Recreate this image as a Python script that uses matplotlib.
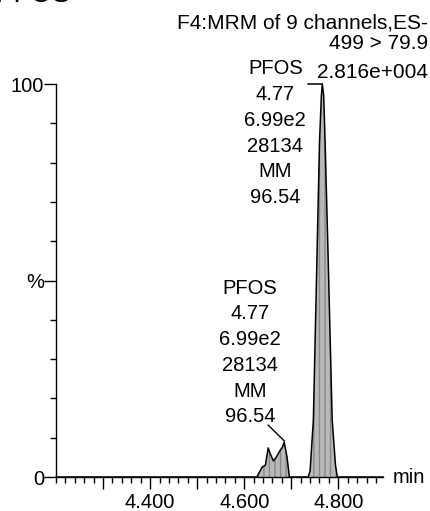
import numpy as np
import matplotlib
matplotlib.use("Agg")
import matplotlib.pyplot as plt
from matplotlib.ticker import FixedLocator, MultipleLocator

plt.rcParams['font.family'] = ['Liberation Sans', 'DejaVu Sans']

# chromatogram trace (time in min, intensity in %)
times = [4.200, 4.627, 4.638, 4.645, 4.651, 4.655, 4.662, 4.668, 4.677, 4.681,
         4.685, 4.691, 4.696, 4.736, 4.740, 4.747, 4.755, 4.760, 4.764, 4.766,
         4.769, 4.772, 4.778, 4.787, 4.794, 4.798, 4.895]
intensity = [0, 0, 2.5, 3.0, 7.4, 6.0, 4.1, 5.0, 6.9, 7.5,
             8.9, 5.1, 0, 0, 1.5, 14.5, 57.8, 85, 97, 100,
             97, 85, 57.8, 14.5, 3.0, 0, 0]

# peak annotations
peak_label = "PFOS\n4.77\n6.99e2\n28134\nMM\n96.54"
header_lines = ["F4:MRM of 9 channels,ES-", "499 > 79.9", "2.816e+004"]
major_ticks = [4.3, 4.4, 4.5, 4.6, 4.7, 4.8]
major_labels = ["", "4.400", "", "4.600", "", "4.800"]

W, H = 430, 511
fig = plt.figure(figsize=(W / 100, H / 100), dpi=100)
ax = fig.add_axes([56 / W, 34 / H, (383 - 56) / W, (477 - 84) / H])

t = np.array(times)
y = np.array(intensity)
ax.fill_between(t, 0, y, facecolor='#b9b9b9', edgecolor='none', clip_on=False)
ax.fill_between(t, 0, y, facecolor='none', edgecolor='#888888', hatch='|||',
                linewidth=0, clip_on=False)
ax.plot(t, y, color='black', lw=1.1, clip_on=False)

ax.set_xlim(4.2, 4.895)
ax.set_ylim(0, 100)

for s in ['top', 'right']:
    ax.spines[s].set_visible(False)
for s in ['left', 'bottom']:
    ax.spines[s].set_linewidth(1.0)

ax.xaxis.set_major_locator(FixedLocator(major_ticks))
ax.set_xticklabels(major_labels)
ax.xaxis.set_minor_locator(MultipleLocator(0.02))
ax.set_yticks([0, 50, 100])
ax.set_yticklabels(['0', '%', '100'])
ax.yaxis.set_minor_locator(MultipleLocator(10))
ax.tick_params(axis='x', which='major', direction='out', length=8.5, width=1.0,
               labelsize=14.5, pad=3)
ax.tick_params(axis='x', which='minor', direction='out', length=4.5, width=1.0)
ax.tick_params(axis='y', which='major', direction='out', length=8.5, width=1.0,
               labelsize=14.5, pad=0)
ax.tick_params(axis='y', which='minor', direction='out', length=4, width=1.0)

# apex marker of the main peak and leader to the small peak
ax.plot([4.736, 4.766], [100, 100], color='black', lw=1.1, clip_on=False)
ax.plot([4.651, 4.685], [13.2, 9.2], color='black', lw=1.0, clip_on=False)

ax.text(4.666, 87.5, peak_label, ha='center', va='center', fontsize=14.5,
        linespacing=1.45)
ax.text(4.6128, 31.7, peak_label, ha='center', va='center', fontsize=14.5,
        linespacing=1.45)

ax.text(1.03, 0, "min", transform=ax.transAxes, ha='left', va='center',
        fontsize=14.5)

fig.text(428 / W, 1 - 23 / H, header_lines[0], ha='right', va='center', fontsize=15)
fig.text(428 / W, 1 - 43 / H, header_lines[1], ha='right', va='center', fontsize=15)
fig.text(428 / W, 1 - 72 / H, header_lines[2], ha='right', va='center', fontsize=15)

# title cut off at the top edge
fig.text(-4 / W, 1 - 2 / H, "PFOS", ha='left', va='baseline', fontsize=20)

fig.savefig("out.png", dpi=100)
